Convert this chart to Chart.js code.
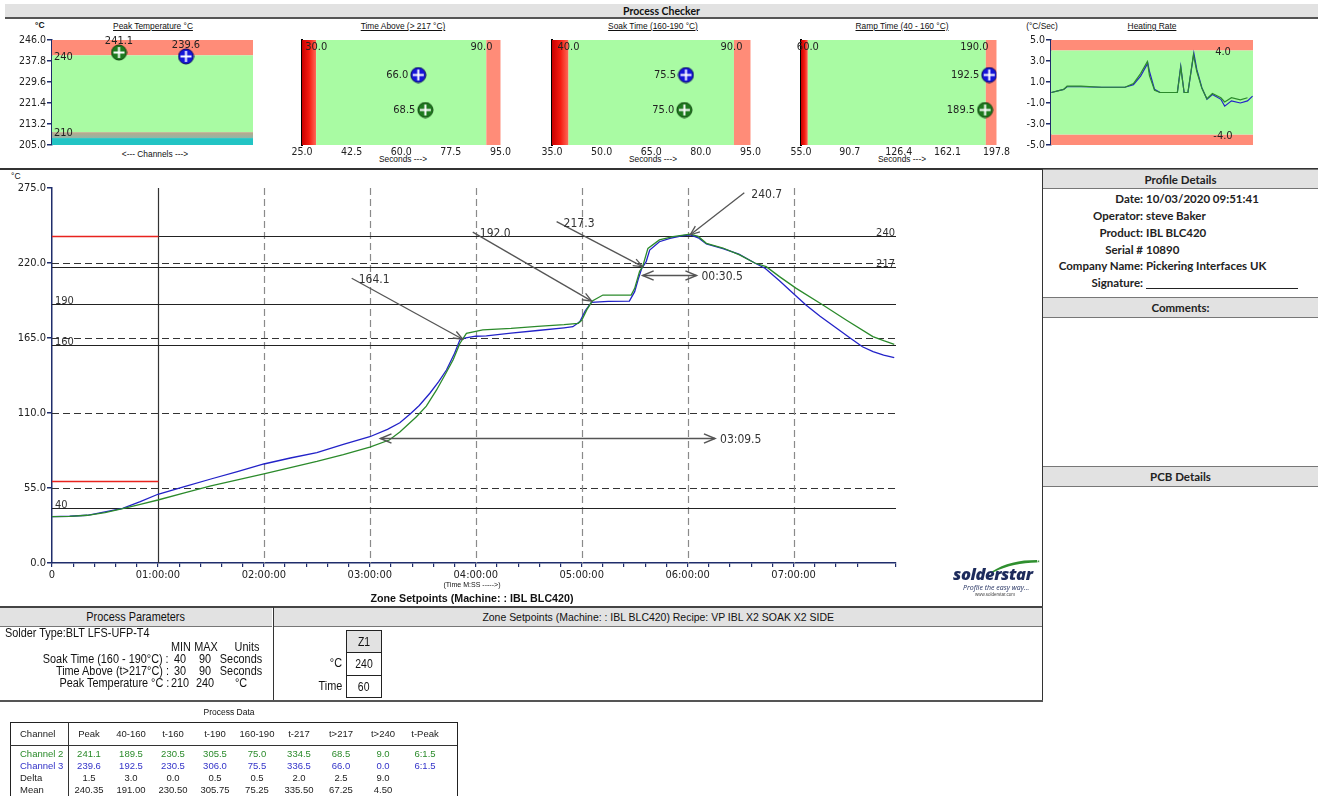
<!DOCTYPE html>
<html>
<head>
<meta charset="utf-8">
<title>Reflow Profile Report</title>
<script src="https://cdn.jsdelivr.net/npm/chart.js@4.4.1/dist/chart.umd.min.js"></script>
<style>
  html, body { margin: 0; padding: 0; }
  body { width: 1318px; height: 796px; position: relative; overflow: hidden; background: #fff;
         font-family: "Liberation Sans", Arial, sans-serif; color: #111; }
  canvas { position: absolute; }
  .t { position: absolute; white-space: nowrap; line-height: 1; }
  .bar { position: absolute; background: #e2e2e2; border-top: 1px solid #777; border-bottom: 1px solid #777;
         display: flex; align-items: center; justify-content: center; white-space: nowrap; }
  .hl { position: absolute; height: 0; border-top: 1px solid #333; }
  .vl { position: absolute; width: 0; border-left: 1px solid #333; }
  .ttl { font-size: 9.5px; text-decoration: underline; transform: translateX(-50%) scaleX(0.88); }
  .sub { font-size: 9.5px; transform: translateX(-50%) scaleX(0.88); }
  .pd { font-family: "Lato", "Open Sans", sans-serif; font-weight: 700; font-size: 11.5px; color: #222; }
  .pd .k { position: absolute; right: 0; }
  .sq { display: inline-block; transform: scaleX(0.87); }
  .sqr { display: inline-block; transform: scaleX(0.87); transform-origin: right center; }
  .sqc { transform: translateX(-50%) scaleX(0.87); }
  .cell { position: absolute; border: 1px solid #222; display: flex; align-items: center; justify-content: center;
          font-size: 12px; }
  .tbl { font-size: 9.5px; }
</style>
</head>
<body>

<!-- ===== Process checker header ===== -->
<div class="bar" style="left:5px;top:4px;width:1313px;height:13px;border-top:none;border-bottom:2px solid #555;
     font-family:'Lato','Open Sans',sans-serif;font-weight:700;font-size:10.5px;">Process Checker</div>

<div class="t" style="left:35px;top:21px;font-size:8.5px;font-weight:700;">°C</div>
<div class="t ttl" style="left:153px;top:21px;">Peak Temperature °C</div>
<div class="t ttl" style="left:403px;top:21px;">Time Above (&gt; 217 °C)</div>
<div class="t ttl" style="left:653px;top:21px;">Soak Time (160-190 °C)</div>
<div class="t ttl" style="left:902px;top:21px;">Ramp Time (40 - 160 °C)</div>
<div class="t sub" style="left:1042px;top:21px;">(°C/Sec)</div>
<div class="t ttl" style="left:1152px;top:21px;">Heating Rate</div>

<div class="t sub" style="left:155px;top:149px;">&lt;--- Channels ---&gt;</div>
<div class="t sub" style="left:403px;top:154px;">Seconds ---&gt;</div>
<div class="t sub" style="left:653px;top:154px;">Seconds ---&gt;</div>
<div class="t sub" style="left:902px;top:154px;">Seconds ---&gt;</div>

<canvas id="cPeak"></canvas>
<canvas id="cAbove"></canvas>
<canvas id="cSoak"></canvas>
<canvas id="cRamp"></canvas>
<canvas id="cRate"></canvas>

<!-- ===== Main profile area ===== -->
<div class="hl" style="left:0;top:168px;width:1318px;border-top:2px solid #333;"></div>
<div class="t" style="left:11px;top:172px;font-size:8.5px;">°C</div>
<canvas id="cProfile"></canvas>
<div class="t sub" style="left:472px;top:581px;font-size:8px;">(Time M:SS -----&gt;)</div>
<div class="t" style="left:472px;top:593px;font-size:11.5px;font-weight:700;transform:translateX(-50%) scaleX(0.93);">Zone Setpoints (Machine: : IBL BLC420)</div>

<!-- logo -->
<div class="t" style="left:951px;top:556px;width:92px;height:44px;">
  <svg width="92" height="16" style="position:absolute;left:0;top:0">
    <path d="M40 16 C54 7, 68 4, 86 4 L86 6.5 C70 6.5, 56 10, 43 16 Z" fill="#2f8f2f"/>
    <text x="86" y="9" font-size="7" fill="#2f8f2f">*</text>
  </svg>
  <div class="t" style="left:2px;top:10px;font-family:'Open Sans',sans-serif;font-weight:800;font-style:italic;font-size:16.5px;color:#1d2b5c;letter-spacing:-0.4px;">solderstar</div>
  <div class="t" style="left:12px;top:28px;font-family:'Open Sans',sans-serif;font-style:italic;font-size:7px;color:#1d2b5c;">Profile the easy way...</div>
  <div class="t" style="left:24px;top:37px;font-size:4.5px;color:#444;">www.solderstar.com</div>
</div>

<!-- ===== Right-hand panels ===== -->
<div class="vl" style="left:1042px;top:169px;height:532px;border-left:1px solid #333;"></div>
<div class="bar pd" style="left:1043px;top:169px;width:275px;height:18px;">Profile Details</div>
<div class="t pd" style="left:0;top:193px;width:1143px;"><span class="k">Date:</span></div>
<div class="t pd" style="left:1146px;top:193px;">10/03/2020 09:51:41</div>
<div class="t pd" style="left:0;top:210px;width:1143px;"><span class="k">Operator:</span></div>
<div class="t pd" style="left:1146px;top:210px;">steve Baker</div>
<div class="t pd" style="left:0;top:227px;width:1143px;"><span class="k">Product:</span></div>
<div class="t pd" style="left:1146px;top:227px;">IBL BLC420</div>
<div class="t pd" style="left:0;top:244px;width:1143px;"><span class="k">Serial #</span></div>
<div class="t pd" style="left:1146px;top:244px;">10890</div>
<div class="t pd" style="left:0;top:260px;width:1143px;"><span class="k">Company Name:</span></div>
<div class="t pd" style="left:1146px;top:260px;">Pickering Interfaces UK</div>
<div class="t pd" style="left:0;top:277px;width:1143px;"><span class="k">Signature:</span></div>
<div class="hl" style="left:1146px;top:288px;width:152px;border-top:1px solid #222;"></div>
<div class="bar pd" style="left:1043px;top:297px;width:275px;height:19px;">Comments:</div>
<div class="bar pd" style="left:1043px;top:466px;width:275px;height:19px;">PCB Details</div>

<!-- ===== Process parameters / zone setpoints ===== -->
<div class="hl" style="left:0;top:606px;width:1043px;border-top:2px solid #444;"></div>
<div class="bar" style="left:0;top:608px;width:272px;height:18px;font-size:12.5px;border-top:none;"><span class="sq">Process Parameters</span></div>
<div class="bar" style="left:274px;top:608px;width:768px;height:18px;font-size:11.5px;border-top:none;"><span class="sq" style="transform:scaleX(0.91)">Zone Setpoints (Machine: : IBL BLC420) Recipe: VP IBL X2 SOAK X2 SIDE</span></div>
<div class="vl" style="left:273px;top:607px;height:93px;"></div>
<div class="hl" style="left:0;top:700px;width:1043px;border-top:2px solid #555;"></div>
<div id="params"></div>
<div id="zones"></div>

<!-- ===== Process data table ===== -->
<div class="t tbl" style="left:229px;top:708px;transform:translateX(-50%);font-size:8.5px;">Process Data</div>
<div style="position:absolute;left:10px;top:722px;width:446px;height:90px;border:1px solid #222;"></div>
<div class="vl" style="left:68px;top:722px;height:80px;"></div>
<div class="hl" style="left:10px;top:745px;width:447px;"></div>
<div id="dataTable"></div>

<script>
// ---------------- Profile samples (elapsed seconds, °C) ----------------
const ch2Time = [0, 10, 20, 30, 40, 50, 60, 75, 90, 105, 120, 135, 150, 165, 180, 191, 197, 206.4, 212,
  217.8, 223, 227.2, 231, 234.7, 244, 260, 275, 290, 298, 300, 303, 306, 312, 328, 330, 332.8, 334.5,
  337.5, 344, 351.7, 361.5, 366, 370.6, 380, 389.4, 398, 404.5, 412, 421.5, 436.6, 450, 464.9, 471, 477];
const ch2Temp = [34, 34.2, 35, 37, 39.8, 43, 46.2, 51.5, 56.5, 61, 65.3, 70, 74.5, 79.5, 85, 90.2, 96, 107.3, 115,
  126.9, 139, 149, 161, 168.4, 170.9, 172, 173.5, 174.8, 175.8, 178, 186, 192.1, 196.5, 196.5, 201.4, 214, 217.3,
  230.7, 236.9, 239.3, 241.1, 239.5, 234.4, 231, 225.9, 220, 217.3, 210, 201.4, 189.2, 178, 166, 163, 160.4];

const ch3Time = [0, 10, 20, 30, 40, 50, 60, 75, 90, 105, 120, 135, 150, 165, 180, 190, 197, 203, 208, 214,
  219, 223.4, 228, 231, 232.8, 240, 246, 260, 275, 290, 295, 299, 302, 305.5, 315, 327, 330, 332, 334,
  336.5, 338.5, 344, 350, 356, 361.5, 366, 370.6, 380, 389, 398, 404, 412, 420, 427, 435, 444, 452, 459, 465, 471, 477];
const ch3Temp = [34, 34.3, 35, 37.5, 40, 45, 50.4, 56, 61.6, 67, 72.6, 77, 81, 87, 92.6, 98, 102.8, 109.5, 115.5, 124.5,
  133, 141.5, 153.8, 163.5, 164.8, 166.3, 166.5, 168.5, 170.5, 172.5, 173.3, 177, 185, 191.2, 191.8, 192.1, 199, 208, 216.1,
  221, 229.5, 235.6, 238.1, 239.8, 240.7, 238.5, 234, 230.5, 226.5, 220, 216, 207, 197.5, 189.2, 181, 172.5, 165, 158.6, 155, 152.5, 150.6];

// Heating rate (°C/s) against elapsed seconds
const rateTime2 = [1, 30, 38, 71, 120, 175, 195, 212, 228, 233, 245, 258, 299, 307, 315, 324, 337, 345, 357, 369, 382, 402, 411, 427, 448, 465];
const rate2     = [0, 0.3, 0.6, 0.6, 0.5, 0.5, 0.85, 1.8, 2.95, 1.6, 0.2, 0, 0, 2.4, 0, 0, 3.6, 2.0, 0.4, -0.6, -0.1, -0.5, -0.9, -0.5, -0.7, -0.5];
const rateTime3 = [1, 30, 38, 71, 120, 175, 195, 212, 229, 233, 245, 258, 299, 307, 315, 324, 338, 345, 357, 369, 382, 402, 411, 427, 448, 465, 477];
const rate3     = [0, 0.3, 0.55, 0.55, 0.5, 0.5, 0.75, 1.55, 2.8, 2.0, 0.3, 0, 0, 2.5, 0, 0, 3.75, 2.2, 0.45, -0.65, -0.2, -0.65, -1.3, -0.8, -1.0, -0.8, -0.35];

// Channel results shown in the checker panels (Channel 2, Channel 3)
const channelNames = ['Channel 2', 'Channel 3'];
const peakTemps  = [241.1, 239.6];
const timeAbove  = [68.5, 66.0];
const soakTimes  = [75.0, 75.5];
const rampTimes  = [189.5, 192.5];

// Checker scales and process windows
const peakRange = [205, 246],   peakLimits = [210, 240],  peakTicks = [205, 213.2, 221.4, 229.6, 237.8, 246];
const aboveRange = [25, 95],    aboveLimits = [30, 90],   aboveTicks = [25, 42.5, 60, 77.5, 95];
const soakRange = [35, 95],     soakLimits = [40, 90],    soakTicks = [35, 50, 65, 80, 95];
const rampRange = [55, 197.8],  rampLimits = [60, 190],   rampTicks = [55, 90.7, 126.4, 162.1, 197.8];
const rateRange = [-5, 5],      rateLimits = [-4, 4],     rateTicks = [-5, -3, -1, 1, 3, 5];

// Profile chart reference lines and zone setpoint
const limitTemps = [40, 160, 190, 217, 240];
const zoneTemps = [240, 60];
const zoneTime = 60;
const profileMaxTime = 478;

// Callouts on the profile (seconds, °C) and measured spans (start s, length s, level °C)
const calloutTimes = [232.6, 305.7, 334.5, 361.5];
const calloutTemps = [164.1, 192.0, 217.3, 240.7];
const spanStarts  = [334.5, 186];
const spanLengths = [30.5, 189.5];
const spanLevels  = [211, 91.7];

// Process data table
const statColumns = ['Peak', '40-160', 't-160', 't-190', '160-190', 't-217', 't>217', 't>240', 't-Peak'];
const ch2Stats  = [241.1, 189.5, 230.5, 305.5, 75.0, 334.5, 68.5, 9.0];
const ch3Stats  = [239.6, 192.5, 230.5, 306.0, 75.5, 336.5, 66.0, 0.0];
const deltaStats = [1.5, 3.0, 0.0, 0.5, 0.5, 2.0, 2.5, 9.0];
const meanStats  = [240.35, 191.00, 230.50, 305.75, 75.25, 335.50, 67.25, 4.50];
const timeToPeak = [361.5, 361.5];

// Process parameters
const paramNames = ['Soak Time (160 - 190°C) :', 'Time Above (t&gt;217°C) :', 'Peak Temperature °C :'];
const paramMin = [40, 30, 210];
const paramMax = [90, 90, 240];
const paramUnits = ['Seconds', 'Seconds', '°C'];
const zoneNames = ['Z1'];
const zoneSetTemps = [240];
const zoneSetTimes = [60];

// ---------------- styling ----------------
const NAVY = '#1f2d6b';
const GREEN = '#2b8a2b';
const BLUE = '#2222c8';
const SALMON = '#ff8c78';
const OK = '#a9fba3';
const TFONT = "'DejaVu Sans Condensed','DejaVu Sans',sans-serif";
Chart.defaults.font.family = TFONT;
Chart.defaults.color = '#222';

function place(id, left, top, w, h) {
  const c = document.getElementById(id);
  c.width = w; c.height = h;
  c.style.left = left + 'px'; c.style.top = top + 'px';
  c.style.width = w + 'px'; c.style.height = h + 'px';
  return c;
}

function marker(fill, edge) {
  const c = document.createElement('canvas');
  c.width = c.height = 17;
  const g = c.getContext('2d');
  g.beginPath(); g.arc(8.5, 8.5, 7.5, 0, Math.PI * 2);
  g.fillStyle = fill; g.fill(); g.lineWidth = 1; g.strokeStyle = edge; g.stroke();
  g.strokeStyle = '#fff'; g.lineWidth = 2;
  g.beginPath(); g.moveTo(8.5, 3); g.lineTo(8.5, 14); g.moveTo(3, 8.5); g.lineTo(14, 8.5); g.stroke();
  return c;
}
const markGreen = marker('#1d7a1d', '#0b3d0b');
const markBlue = marker('#1414d8', '#07075a');

const fmt1 = v => Number(v).toFixed(1);

// Horizontal process-window bands for the time checkers
function windowBands(range, limits, hiLabelPad) {
  return {
    id: 'bands',
    beforeDatasetsDraw(chart) {
      const { ctx, chartArea: a, scales: { x } } = chart;
      const xl = x.getPixelForValue(limits[0]), xh = x.getPixelForValue(limits[1]);
      ctx.save();
      const gr = ctx.createLinearGradient(a.left, 0, xl, 0);
      gr.addColorStop(0, '#c80000'); gr.addColorStop(0.5, '#f41a10'); gr.addColorStop(1, '#ff6a58');
      ctx.fillStyle = gr; ctx.fillRect(a.left, a.top, xl - a.left, a.bottom - a.top);
      ctx.fillStyle = OK; ctx.fillRect(xl, a.top, xh - xl, a.bottom - a.top);
      ctx.fillStyle = SALMON; ctx.fillRect(xh, a.top, a.right - xh, a.bottom - a.top);
      ctx.font = "11px " + TFONT; ctx.fillStyle = '#222'; ctx.textBaseline = 'middle';
      const lo = fmt1(limits[0]), hi = fmt1(limits[1]);
      ctx.textAlign = 'center'; ctx.fillText(lo, xl, a.top + 7);
      const w = ctx.measureText(hi).width;
      const cx = Math.min(xh, a.right - hiLabelPad - w / 2);
      ctx.fillText(hi, cx, a.top + 7);
      ctx.restore();
    },
    afterDatasetsDraw(chart) {
      const { ctx } = chart;
      ctx.save();
      ctx.font = "11px " + TFONT; ctx.fillStyle = '#222'; ctx.textAlign = 'right'; ctx.textBaseline = 'middle';
      chart.data.datasets.forEach((ds, i) => {
        const el = chart.getDatasetMeta(i).data[0];
        ctx.fillText(fmt1(ds.data[0].x), el.x - 10, el.y);
      });
      ctx.restore();
    }
  };
}

// One of the three time checkers: Channel 3 (blue) on the upper row, Channel 2 (green) below
function timeChecker(id, left, values, range, limits, ticks, hiPad) {
  const c = place(id, left, 30, 250, 128);
  const areaLeft = 40, areaTop = 10, areaRight = 243, areaBottom = 115;
  new Chart(c, {
    type: 'scatter',
    data: { datasets: [
      { label: channelNames[1], data: [{ x: values[1], y: 2 }], pointStyle: markBlue, pointRadius: 8 },
      { label: channelNames[0], data: [{ x: values[0], y: 1 }], pointStyle: markGreen, pointRadius: 8 }
    ] },
    options: {
      animation: false, responsive: false, events: [],
      layout: { padding: { left: 0, top: areaTop, right: 250 - areaRight, bottom: 0 } },
      plugins: { legend: { display: false }, tooltip: { enabled: false } },
      scales: {
        x: { type: 'linear', min: range[0], max: range[1],
             afterBuildTicks: s => { s.ticks = ticks.map(v => ({ value: v })); },
             afterFit: s => { s.height = 128 - areaBottom; },
             ticks: { callback: v => fmt1(v), maxRotation: 0, autoSkip: false, padding: 1, font: { size: 10.5 } },
             grid: { display: false, drawTicks: false }, border: { display: false } },
        y: { min: 0, max: 3, afterFit: s => { s.width = areaLeft; },
             ticks: { display: false }, grid: { display: false, drawTicks: false },
             border: { display: true, color: '#000', width: 2 } }
      }
    },
    plugins: [windowBands(range, limits, hiPad)]
  });
}

// ---------------- Peak temperature checker ----------------
(function () {
  const c = place('cPeak', 0, 30, 262, 125);
  const areaLeft = 52, areaTop = 10, areaRight = 254, areaBottom = 115;
  new Chart(c, {
    type: 'scatter',
    data: { datasets: [
      { label: channelNames[0], data: [{ x: 1, y: peakTemps[0] }], pointStyle: markGreen, pointRadius: 8 },
      { label: channelNames[1], data: [{ x: 2, y: peakTemps[1] }], pointStyle: markBlue, pointRadius: 8 }
    ] },
    options: {
      animation: false, responsive: false, events: [],
      layout: { padding: { left: 0, top: areaTop, right: 262 - areaRight, bottom: 125 - areaBottom } },
      plugins: { legend: { display: false }, tooltip: { enabled: false } },
      scales: {
        x: { type: 'linear', min: 0, max: 3, display: false },
        y: { min: peakRange[0], max: peakRange[1], afterFit: s => { s.width = areaLeft; },
             afterBuildTicks: s => { s.ticks = peakTicks.map(v => ({ value: v })); },
             ticks: { callback: v => fmt1(v), padding: 1, font: { size: 10.5 } },
             grid: { drawOnChartArea: false, tickLength: 5, color: NAVY, lineWidth: 1.5 },
             border: { color: NAVY, width: 1.5 } }
      }
    },
    plugins: [{
      id: 'peakBands',
      beforeDatasetsDraw(chart) {
        const { ctx, chartArea: a, scales: { y } } = chart;
        const yHi = y.getPixelForValue(peakLimits[1]), yLo = y.getPixelForValue(peakLimits[0]);
        const yTeal = y.getPixelForValue(peakLimits[0] - 2.3);
        ctx.save();
        ctx.fillStyle = SALMON; ctx.fillRect(a.left, a.top, a.right - a.left, yHi - a.top);
        ctx.fillStyle = OK; ctx.fillRect(a.left, yHi, a.right - a.left, yLo - yHi);
        const g = ctx.createLinearGradient(0, yLo, 0, yTeal);
        g.addColorStop(0, '#bda888'); g.addColorStop(1, '#8fb6a8');
        ctx.fillStyle = g; ctx.fillRect(a.left, yLo, a.right - a.left, yTeal - yLo);
        ctx.fillStyle = '#22c4c4'; ctx.fillRect(a.left, yTeal, a.right - a.left, a.bottom - yTeal);
        ctx.font = "11px " + TFONT; ctx.fillStyle = '#222'; ctx.textBaseline = 'middle'; ctx.textAlign = 'left';
        ctx.fillText(String(peakLimits[1]), a.left + 2, yHi + 2);
        ctx.fillText(String(peakLimits[0]), a.left + 2, yLo + 1);
        ctx.restore();
      },
      afterDatasetsDraw(chart) {
        const { ctx } = chart;
        ctx.save();
        ctx.font = "11px " + TFONT; ctx.fillStyle = '#222'; ctx.textAlign = 'center'; ctx.textBaseline = 'bottom';
        chart.data.datasets.forEach((ds, i) => {
          const el = chart.getDatasetMeta(i).data[0];
          ctx.fillText(fmt1(ds.data[0].y), el.x, el.y - 6);
        });
        ctx.restore();
      }
    }]
  });
})();

timeChecker('cAbove', 262, timeAbove, aboveRange, aboveLimits, aboveTicks, 8);
timeChecker('cSoak', 512, soakTimes, soakRange, soakLimits, soakTicks, 8);
timeChecker('cRamp', 761, rampTimes, rampRange, rampLimits, rampTicks, 8);

// ---------------- Heating rate ----------------
(function () {
  const c = place('cRate', 1006, 30, 260, 125);
  const areaLeft = 45, areaTop = 10, areaRight = 247, areaBottom = 115;
  const pts = (ts, vs) => ts.map((t, i) => ({ x: t, y: vs[i] }));
  new Chart(c, {
    type: 'line',
    data: { datasets: [
      { label: channelNames[0], data: pts(rateTime2, rate2), borderColor: GREEN, borderWidth: 1.2, pointRadius: 0, tension: 0 },
      { label: channelNames[1], data: pts(rateTime3, rate3), borderColor: BLUE, borderWidth: 1.2, pointRadius: 0, tension: 0 }
    ] },
    options: {
      animation: false, responsive: false, events: [],
      layout: { padding: { left: 0, top: areaTop, right: 260 - areaRight, bottom: 125 - areaBottom } },
      plugins: { legend: { display: false }, tooltip: { enabled: false } },
      scales: {
        x: { type: 'linear', min: 0, max: profileMaxTime, display: false },
        y: { min: rateRange[0], max: rateRange[1], afterFit: s => { s.width = areaLeft; },
             afterBuildTicks: s => { s.ticks = rateTicks.map(v => ({ value: v })); },
             ticks: { callback: v => fmt1(v), padding: 1, font: { size: 10.5 } },
             grid: { drawOnChartArea: false, tickLength: 5, color: NAVY, lineWidth: 1.5 },
             border: { color: NAVY, width: 1.5 } }
      }
    },
    plugins: [{
      id: 'rateBands',
      beforeDatasetsDraw(chart) {
        const { ctx, chartArea: a, scales: { y } } = chart;
        const yHi = y.getPixelForValue(rateLimits[1]), yLo = y.getPixelForValue(rateLimits[0]);
        ctx.save();
        ctx.fillStyle = SALMON;
        ctx.fillRect(a.left, a.top, a.right - a.left, yHi - a.top);
        ctx.fillRect(a.left, yLo, a.right - a.left, a.bottom - yLo);
        ctx.fillStyle = OK; ctx.fillRect(a.left, yHi, a.right - a.left, yLo - yHi);
        ctx.font = "11px " + TFONT; ctx.fillStyle = '#222'; ctx.textBaseline = 'middle'; ctx.textAlign = 'center';
        ctx.fillText(fmt1(rateLimits[1]), a.right - 30, yHi + 2);
        ctx.fillText(fmt1(rateLimits[0]), a.right - 30, yLo + 2);
        ctx.restore();
      }
    }]
  });
})();

// ---------------- Main temperature profile ----------------
function clock(v) {
  if (v === 0) return '0';
  const m = Math.round(v / 60);
  return (m < 10 ? '0' : '') + m + ':00:00';
}
function spanText(len) {
  const m = Math.floor(len / 60), s = len - m * 60;
  return (m < 10 ? '0' : '') + m + ':' + (s < 10 ? '0' : '') + s.toFixed(1);
}
function head(ctx, x, y, ang, len, spread) {
  ctx.beginPath();
  ctx.moveTo(x - len * Math.cos(ang - spread), y - len * Math.sin(ang - spread));
  ctx.lineTo(x, y);
  ctx.lineTo(x - len * Math.cos(ang + spread), y - len * Math.sin(ang + spread));
  ctx.stroke();
}

const CALLOUT_OFFSETS = [[-111, -61], [-119, -69], [-86, -45], [54, -42]];
const LIMIT_LABEL_SIDE = { 40: 'left', 160: 'left', 190: 'left', 217: 'right', 240: 'right' };

const referenceLines = {
  id: 'referenceLines',
  beforeDatasetsDraw(chart) {
    const { ctx, chartArea: a, scales: { x, y } } = chart;
    ctx.save();
    ctx.lineWidth = 1.2;
    // dashed temperature grid
    ctx.strokeStyle = '#333'; ctx.setLineDash([7, 4]);
    y.ticks.forEach(t => {
      if (t.value <= y.min || t.value >= y.max) return;
      const py = Math.round(y.getPixelForValue(t.value)) + 0.5;
      ctx.beginPath(); ctx.moveTo(a.left, py); ctx.lineTo(a.right, py); ctx.stroke();
    });
    // dashed minute grid
    ctx.strokeStyle = '#8a8a8a';
    x.ticks.forEach(t => {
      if (t.value % 60 !== 0 || t.value <= zoneTime) return;
      const px = Math.round(x.getPixelForValue(t.value)) + 0.5;
      ctx.beginPath(); ctx.moveTo(px, a.top); ctx.lineTo(px, a.bottom); ctx.stroke();
    });
    ctx.setLineDash([]);
    // zone boundary
    ctx.strokeStyle = '#333';
    const zx = Math.round(x.getPixelForValue(zoneTime)) + 0.5;
    ctx.beginPath(); ctx.moveTo(zx, a.top); ctx.lineTo(zx, a.bottom); ctx.stroke();
    // solid process limits
    ctx.font = "11px " + TFONT; ctx.fillStyle = '#333'; ctx.textBaseline = 'bottom';
    limitTemps.forEach(v => {
      const py = Math.round(y.getPixelForValue(v)) + 0.5;
      ctx.strokeStyle = '#222';
      ctx.beginPath(); ctx.moveTo(a.left, py); ctx.lineTo(a.right, py); ctx.stroke();
      if (LIMIT_LABEL_SIDE[v] === 'left') { ctx.textAlign = 'left'; ctx.fillText(String(v), a.left + 3, py + 2); }
      else { ctx.textAlign = 'right'; ctx.fillText(String(v), a.right - 1, py + 2); }
    });
    // zone setpoint marks
    ctx.strokeStyle = '#e8231e'; ctx.lineWidth = 1.4;
    zoneTemps.forEach(v => {
      const py = Math.round(y.getPixelForValue(v)) + 0.5;
      ctx.beginPath(); ctx.moveTo(a.left, py); ctx.lineTo(zx, py); ctx.stroke();
    });
    ctx.restore();
  },
  afterDatasetsDraw(chart) {
    const { ctx, scales: { x, y } } = chart;
    ctx.save();
    ctx.strokeStyle = '#555'; ctx.lineWidth = 1.3; ctx.fillStyle = '#333';
    ctx.font = "12px " + TFONT; ctx.textBaseline = 'middle'; ctx.textAlign = 'left';
    calloutTimes.forEach((t, i) => {
      const px = x.getPixelForValue(t), py = y.getPixelForValue(calloutTemps[i]);
      const sx = px + CALLOUT_OFFSETS[i][0], sy = py + CALLOUT_OFFSETS[i][1];
      ctx.beginPath(); ctx.moveTo(sx, sy); ctx.lineTo(px, py); ctx.stroke();
      head(ctx, px, py, Math.atan2(py - sy, px - sx), 10, 0.38);
      ctx.fillText(fmt1(calloutTemps[i]), sx + 7, sy + 2);
    });
    ctx.lineWidth = 1.5;
    spanStarts.forEach((t0, i) => {
      const x0 = x.getPixelForValue(t0), x1 = x.getPixelForValue(t0 + spanLengths[i]);
      const py = Math.round(y.getPixelForValue(spanLevels[i])) + 0.5;
      ctx.beginPath(); ctx.moveTo(x0, py); ctx.lineTo(x1, py); ctx.stroke();
      head(ctx, x0, py, Math.PI, 12, 0.4);
      head(ctx, x1, py, 0, 12, 0.4);
      ctx.fillText(spanText(spanLengths[i]), x1 + 5, py + 1);
    });
    ctx.restore();
  }
};

(function () {
  const c = place('cProfile', 0, 170, 1042, 436);
  const pts = (ts, vs) => ts.map((t, i) => ({ x: t, y: vs[i] }));
  new Chart(c, {
    type: 'line',
    data: { datasets: [
      { label: channelNames[0], data: pts(ch2Time, ch2Temp), borderColor: GREEN, borderWidth: 1.3, pointRadius: 0, tension: 0 },
      { label: channelNames[1], data: pts(ch3Time, ch3Temp), borderColor: BLUE, borderWidth: 1.3, pointRadius: 0, tension: 0 }
    ] },
    options: {
      animation: false, responsive: false, events: [],
      layout: { padding: { left: 0, top: 18, right: 146, bottom: 0 } },
      plugins: { legend: { display: false }, tooltip: { enabled: false } },
      scales: {
        x: { type: 'linear', min: 0, max: profileMaxTime, afterFit: s => { s.height = 43; },
             ticks: { stepSize: 12, autoSkip: false, maxRotation: 0, padding: 2, font: { size: 11 },
                      callback: v => (v % 60 === 0 ? clock(v) : '') },
             grid: { drawOnChartArea: false, tickLength: 4, color: NAVY, lineWidth: 1.2 },
             border: { color: NAVY, width: 1.5 } },
        y: { min: 0, max: 275, afterFit: s => { s.width = 52; },
             ticks: { stepSize: 55, padding: 1, font: { size: 11 }, callback: v => fmt1(v) },
             grid: { drawOnChartArea: false, tickLength: 5, color: NAVY, lineWidth: 1.5 },
             border: { color: NAVY, width: 1.5 } }
      }
    },
    plugins: [referenceLines]
  });
})();

// ---------------- Process parameters text ----------------
(function () {
  const box = document.getElementById('params');
  const fs = 'font-size:12.5px;';
  const centered = (txt, x, y) => '<div class="t sqc" style="left:' + x + 'px;top:' + y + 'px;' + fs + '">' + txt + '</div>';
  let html = '<div class="t" style="left:5px;top:627px;' + fs + 'transform:scaleX(0.87);transform-origin:left center;">Solder Type:BLT LFS-UFP-T4</div>';
  html += centered('MIN', 181, 641) + centered('MAX', 206, 641) + centered('Units', 247, 641);
  paramNames.forEach((n, i) => {
    const top = 653 + i * 12;
    html += '<div class="t" style="left:0;top:' + top + 'px;width:169px;text-align:right;' + fs + '"><span class="sqr">' + n + '</span></div>';
    html += centered(paramMin[i], 180, top) + centered(paramMax[i], 205, top) + centered(paramUnits[i], 241, top);
  });
  box.innerHTML = html;

  const z = document.getElementById('zones');
  let zh = '';
  zoneNames.forEach((n, i) => {
    const left = 346 + i * 35;
    zh += '<div class="cell" style="left:' + left + 'px;top:630px;width:34px;height:21px;background:#e2e2e2;"><span class="sq">' + n + '</span></div>';
    zh += '<div class="cell" style="left:' + left + 'px;top:652px;width:34px;height:22px;"><span class="sq">' + zoneSetTemps[i] + '</span></div>';
    zh += '<div class="cell" style="left:' + left + 'px;top:675px;width:34px;height:21px;"><span class="sq">' + zoneSetTimes[i] + '</span></div>';
  });
  zh += '<div class="t" style="left:0;top:657px;width:342px;text-align:right;' + fs + '"><span class="sqr">°C</span></div>';
  zh += '<div class="t" style="left:0;top:680px;width:342px;text-align:right;' + fs + '"><span class="sqr">Time</span></div>';
  z.innerHTML = zh;
})();

// ---------------- Process data table ----------------
(function () {
  const tb = document.getElementById('dataTable');
  const colX = i => 89 + 42 * i;
  const tPeak = v => { const m = Math.floor(v / 60); return m + ':' + (v - m * 60).toFixed(1); };
  const cell = (txt, x, y, color, center) =>
    '<div class="t tbl" style="left:' + x + 'px;top:' + y + 'px;color:' + color + ';' +
    (center ? 'transform:translateX(-50%);' : '') + '">' + txt + '</div>';
  let h = cell('Channel', 20, 729, '#222', false);
  statColumns.forEach((c, i) => { h += cell(c.replace('>', '&gt;'), colX(i), 729, '#222', true); });
  const rows = [
    [channelNames[0], ch2Stats.map(fmt1).concat([tPeak(timeToPeak[0])]), '#2a8a2a'],
    [channelNames[1], ch3Stats.map(fmt1).concat([tPeak(timeToPeak[1])]), '#3232c8'],
    ['Delta', deltaStats.map(fmt1), '#222'],
    ['Mean', meanStats.map(v => v.toFixed(2)), '#222']
  ];
  rows.forEach((r, j) => {
    const y = 749 + j * 12;
    h += cell(r[0], 20, y, r[2], false);
    r[1].forEach((v, i) => { h += cell(v, colX(i), y, r[2], true); });
  });
  tb.innerHTML = h;
})();
</script>
</body>
</html>
